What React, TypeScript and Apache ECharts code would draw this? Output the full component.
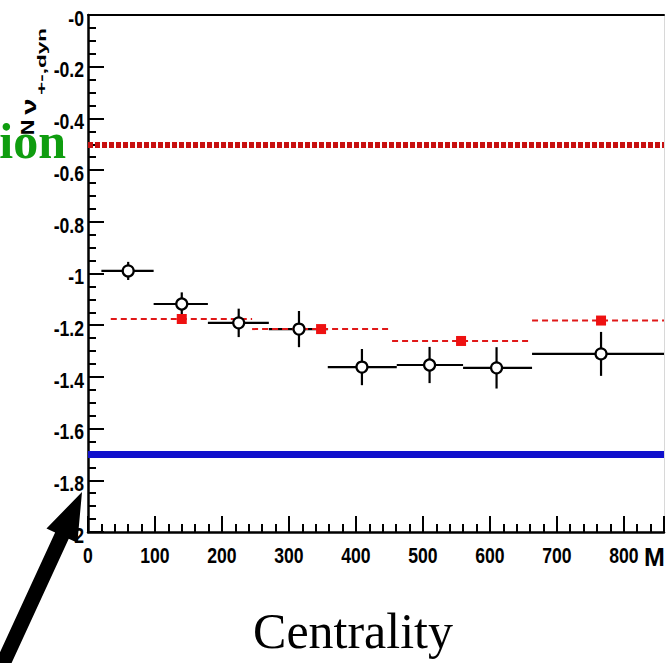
import React, { useEffect, useRef } from "react";
import * as echarts from "echarts";

// Open circles (black, with x and y error bars)
const openX = [60, 140, 225, 315, 409, 510, 610, 766];
const openY = [-0.99, -1.118, -1.191, -1.215, -1.362, -1.354, -1.365, -1.311];
const openXLow = [20, 98, 179, 270, 358, 461, 560, 663];
const openXHigh = [98, 179, 270, 358, 461, 560, 663, 880];
const openYErr = [0.035, 0.045, 0.055, 0.07, 0.07, 0.07, 0.08, 0.085];

// Red squares with dashed horizontal bins
const redX = [140, 348, 557, 766];
const redY = [-1.176, -1.215, -1.261, -1.182];
const redXLow = [34, 245, 454, 663];
const redXHigh = [245, 454, 663, 880];

// Reference levels
const dottedRef = -0.5;
const blueRef = -1.7;

// Axes
const xMin = 0;
const xMax = 860;
const xInterval = 100;
const yMin = -2;
const yMax = 0;
const yInterval = 0.2;

// Tick labels
const xTickValues = [0, 100, 200, 300, 400, 500, 600, 700, 800];
const xTickLabels = ["0", "100", "200", "300", "400", "500", "600", "700", "800"];
const yTickValues = [0, -0.2, -0.4, -0.6, -0.8, -1, -1.2, -1.4, -1.6, -1.8, -2];
const yTickLabels = ["-0", "-0.2", "-0.4", "-0.6", "-0.8", "-1", "-1.2", "-1.4", "-1.6", "-1.8", "-2"];

const sans = "'Liberation Sans', Arial, sans-serif";
const serif = "'Liberation Serif', 'Times New Roman', serif";
const tickFont = `bold 22px ${sans}`;

function arrowPoints() {
  const tip = [82, 492];
  const len = Math.hypot(75, 163);
  const d = [75 / len, -163 / len];
  const p = [-d[1], d[0]];
  const headLen = 48;
  const headHalf = 17;
  const shaftHalf = 7.5;
  const B = [tip[0] - headLen * d[0], tip[1] - headLen * d[1]];
  const T = [tip[0] - 220 * d[0], tip[1] - 220 * d[1]];
  return [
    tip,
    [B[0] + headHalf * p[0], B[1] + headHalf * p[1]],
    [B[0] + shaftHalf * p[0], B[1] + shaftHalf * p[1]],
    [T[0] + shaftHalf * p[0], T[1] + shaftHalf * p[1]],
    [T[0] - shaftHalf * p[0], T[1] - shaftHalf * p[1]],
    [B[0] - shaftHalf * p[0], B[1] - shaftHalf * p[1]],
    [B[0] - headHalf * p[0], B[1] - headHalf * p[1]],
  ];
}

export default function App() {
  const ref = useRef<HTMLDivElement>(null);
  useEffect(() => {
    if (!ref.current) return;
    const chart = echarts.init(ref.current, null, { renderer: "svg" });

    const openData = openX.map((x, i) => [x, openY[i], openXLow[i], openXHigh[i], openYErr[i]]);
    const redData = redX.map((x, i) => [x, redY[i], redXLow[i], redXHigh[i]]);

    const axisCommon = {
      type: "value",
      axisLine: { show: true, onZero: false, lineStyle: { color: "#000", width: 2.5 } },
      axisTick: { show: true, inside: true, length: 16, lineStyle: { color: "#000", width: 2 } },
      splitLine: { show: false },
      axisLabel: { show: false },
    };

    const option: any = {
      animation: false,
      backgroundColor: "#ffffff",
      grid: { left: 88, top: 15, right: 2, bottom: 131, containLabel: false },
      xAxis: [
        {
          ...axisCommon,
          min: xMin,
          max: xMax,
          interval: xInterval,
          minorTick: { show: true, splitNumber: 5, length: 8, lineStyle: { color: "#000", width: 2 } },
        },
        {
          type: "value",
          position: "top",
          min: xMin,
          max: xMax,
          axisLine: { show: true, onZero: false, lineStyle: { color: "#000", width: 2 } },
          axisTick: { show: false },
          axisLabel: { show: false },
          splitLine: { show: false },
        },
      ],
      yAxis: [
        {
          ...axisCommon,
          min: yMin,
          max: yMax,
          interval: yInterval,
          minorTick: { show: true, splitNumber: 4, length: 8, lineStyle: { color: "#000", width: 2 } },
        },
        {
          type: "value",
          position: "right",
          min: yMin,
          max: yMax,
          axisLine: { show: true, onZero: false, lineStyle: { color: "#d8d8d8", width: 1 } },
          axisTick: { show: false },
          axisLabel: { show: false },
          splitLine: { show: false },
        },
      ],
      series: [
        {
          type: "custom",
          name: "open-err",
          clip: true,
          z: 3,
          data: openData,
          renderItem: (params: any, api: any) => {
            const y = api.value(1);
            const e = api.value(4);
            const l = api.coord([api.value(2), y]);
            const r = api.coord([api.value(3), y]);
            const t = api.coord([api.value(0), y + e]);
            const b = api.coord([api.value(0), y - e]);
            return {
              type: "group",
              children: [
                { type: "line", shape: { x1: l[0], y1: l[1], x2: r[0], y2: r[1] }, style: { stroke: "#000", lineWidth: 2.2 } },
                { type: "line", shape: { x1: t[0], y1: t[1], x2: b[0], y2: b[1] }, style: { stroke: "#000", lineWidth: 2.2 } },
              ],
            };
          },
        },
        {
          type: "custom",
          name: "red-bins",
          clip: true,
          z: 4,
          data: redData,
          renderItem: (params: any, api: any) => {
            const y = api.value(1);
            const l = api.coord([api.value(2), y]);
            const r = api.coord([api.value(3), y]);
            return {
              type: "line",
              shape: { x1: l[0], y1: l[1], x2: r[0], y2: r[1] },
              style: { stroke: "#e01818", lineWidth: 2, lineDash: [6, 4] },
            };
          },
        },
        {
          type: "scatter",
          name: "open",
          z: 5,
          symbol: "circle",
          symbolSize: 11,
          itemStyle: { color: "#ffffff", borderColor: "#000", borderWidth: 2.2, opacity: 1 },
          data: openX.map((x, i) => [x, openY[i]]),
          markLine: {
            silent: true,
            symbol: ["none", "none"],
            label: { show: false },
            z: 2,
            data: [
              { yAxis: dottedRef, lineStyle: { color: "#c81010", width: 6, type: [5, 2] } },
              { yAxis: blueRef, lineStyle: { color: "#1010cc", width: 7, type: "solid" } },
            ],
          },
        },
        {
          type: "scatter",
          name: "red",
          z: 6,
          symbol: "rect",
          symbolSize: 10,
          itemStyle: { color: "#ee1111", opacity: 1 },
          data: redX.map((x, i) => [x, redY[i]]),
        },
        {
          type: "custom",
          name: "x-tick-labels",
          silent: true,
          z: 10,
          data: xTickValues.map((v) => [v, yMin]),
          renderItem: (params: any, api: any) => {
            const p = api.coord([api.value(0), api.value(1)]);
            return {
              type: "text",
              x: p[0],
              y: p[1] + 23,
              scaleX: 0.8,
              style: { text: xTickLabels[params.dataIndex], fill: "#000", font: tickFont, align: "center", verticalAlign: "middle" },
            };
          },
        },
        {
          type: "custom",
          name: "y-tick-labels",
          silent: true,
          z: 10,
          data: yTickValues.map((v) => [xMin, v]),
          renderItem: (params: any, api: any) => {
            const p = api.coord([api.value(0), api.value(1)]);
            return {
              type: "text",
              x: p[0] - 4,
              y: p[1] + 3,
              scaleX: 0.8,
              style: { text: yTickLabels[params.dataIndex], fill: "#000", font: tickFont, align: "right", verticalAlign: "middle" },
            };
          },
        },
      ],
      graphic: [
        {
          type: "text",
          x: 66,
          y: 141,
          style: { text: "ion", fill: "#0f9d0f", font: `bold 50px ${serif}`, align: "right", verticalAlign: "middle" },
        },
        {
          type: "text",
          x: 28,
          y: 127.5,
          rotation: Math.PI / 2,
          scaleX: 1.2,
          style: { text: "N", fill: "#000", font: `bold 18px ${sans}`, align: "center", verticalAlign: "middle" },
        },
        {
          type: "text",
          x: 29,
          y: 106.5,
          rotation: Math.PI / 2,
          scaleX: 1.4,
          style: { text: "ν", fill: "#000", font: `bold 21px ${sans}`, align: "center", verticalAlign: "middle" },
        },
        {
          type: "text",
          x: 41,
          y: 61.5,
          rotation: Math.PI / 2,
          scaleX: 1.73,
          style: { text: "+-,dyn", fill: "#000", font: `bold 13px ${sans}`, align: "center", verticalAlign: "middle" },
        },
        {
          type: "text",
          x: 353,
          y: 631,
          style: { text: "Centrality", fill: "#000", font: `50px ${serif}`, align: "center", verticalAlign: "middle" },
        },
        {
          type: "text",
          x: 644,
          y: 557,
          style: { text: "M", fill: "#000", font: `bold 25px ${sans}`, align: "left", verticalAlign: "middle" },
        },
        {
          type: "polygon",
          z: 100,
          shape: { points: arrowPoints() },
          style: { fill: "#000" },
        },
      ],
    };
    chart.setOption(option);
    return () => chart.dispose();
  }, []);
  return (
    <div
      ref={ref}
      style={{ position: "fixed", left: 0, top: 0, width: 666, height: 663, background: "#fff" }}
    />
  );
}
